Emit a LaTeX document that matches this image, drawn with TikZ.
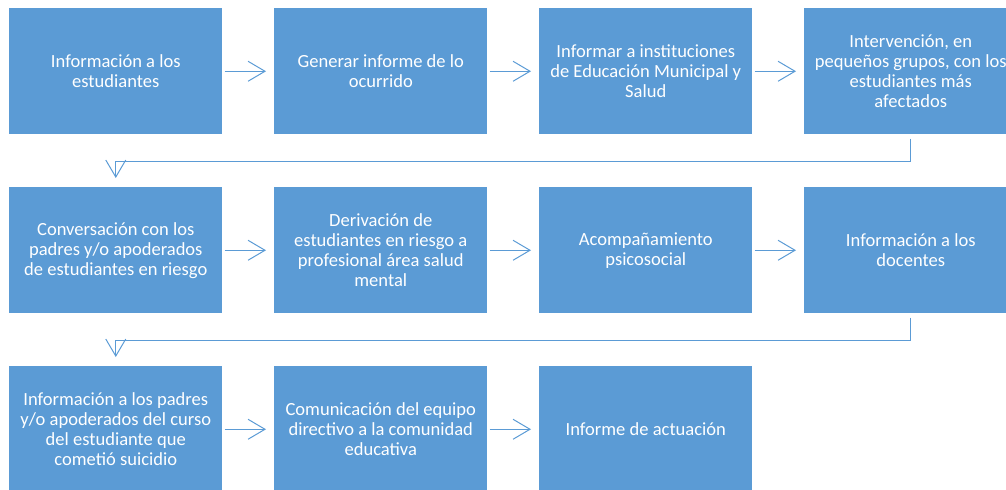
\documentclass[tikz,border=0pt]{standalone}
\usepackage{fontspec}
\setmainfont{Carlito}
\usetikzlibrary{arrows.meta}
\definecolor{boxblue}{HTML}{5B9BD5}
\definecolor{lineblue}{HTML}{5B9BD5}
\tikzset{
  stepbox/.style={rectangle, fill=boxblue, draw=none, anchor=north west,
    minimum width=159.75pt, minimum height=94.5pt, inner sep=0pt,
    align=center, text=white, font=\fontsize{13.9pt}{15pt}\selectfont},
  conn/.style={draw=lineblue, line width=0.75pt,
    -{Straight Barb[length=12.75pt,width=15pt,line width=0.75pt]}},
}
\begin{document}
\begin{tikzpicture}[x=0.75pt,y=-0.75pt]
\useasboundingbox (0,0) rectangle (1006,489);
\clip (0,0) rectangle (1006,489);
% row 1
\node[stepbox] (b1) at (9,8) {Información a los\\estudiantes};
\node[stepbox] (b2) at (274,8) {Generar informe de lo\\ocurrido};
\node[stepbox] (b3) at (539,8) {Informar a instituciones\\de Educación Municipal y\\Salud};
\node[stepbox] (b4) at (804,8) {Intervención, en\\pequeños grupos, con los\\estudiantes más\\afectados};
% row 2
\node[stepbox] (b5) at (9,187) {Conversación con los\\padres y/o apoderados\\de estudiantes en riesgo};
\node[stepbox] (b6) at (274,187) {Derivación de\\estudiantes en riesgo a\\profesional área salud\\mental};
\node[stepbox] (b7) at (539,187) {Acompañamiento\\psicosocial};
\node[stepbox] (b8) at (804,187) {Información a los\\docentes};
% row 3
\node[stepbox] (b9) at (9,366) {Información a los padres\\y/o apoderados del curso\\del estudiante que\\cometió suicidio};
\node[stepbox] (b10) at (274,366) {Comunicación del equipo\\directivo a la comunidad\\educativa};
\node[stepbox] (b11) at (539,366) {Informe de actuación};
% horizontal connectors
\foreach \a/\b in {b1/b2,b2/b3,b3/b4,b5/b6,b6/b7,b7/b8,b9/b10,b10/b11}{
  \draw[conn, shorten <=1.5pt, shorten >=6pt] (\a.east) -- (\b.west);
}
% elbow connectors
\draw[conn, shorten <=3pt, shorten >=6.75pt] (b4.south) -- ++(0,27) -| (b5.north);
\draw[conn, shorten <=3pt, shorten >=6.75pt] (b8.south) -- ++(0,27) -| (b9.north);
\end{tikzpicture}
\end{document}
